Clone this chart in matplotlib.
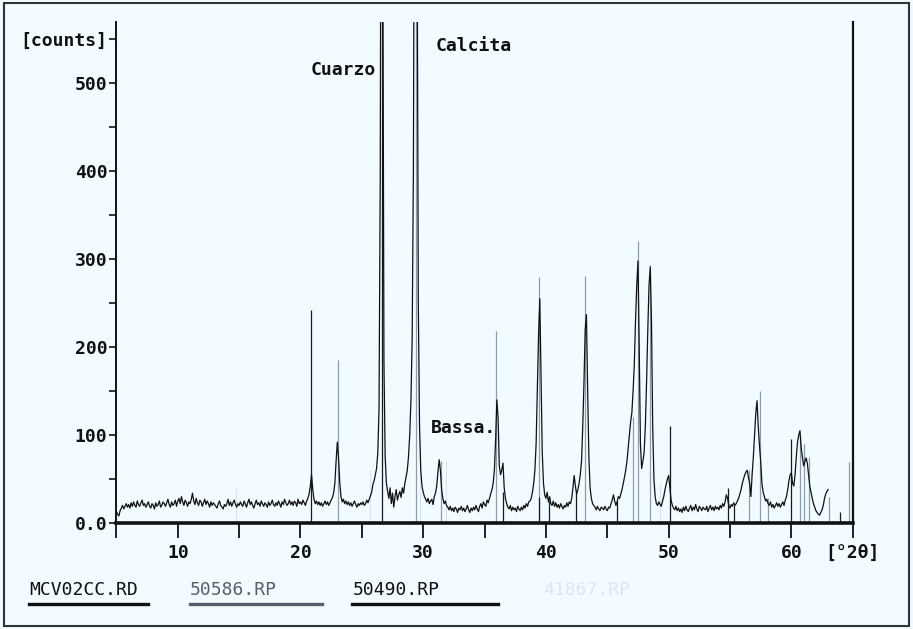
import matplotlib.pyplot as plt
import numpy as np

# scan measured (MCV02CC.RD), step 0.1 deg starting at 5.0 deg 2theta
scan_start = 5.0
scan_step = 0.1
counts = [
    13, 10, 8, 14, 17, 20, 16, 19, 22, 18,        # 5
    21, 17, 23, 19, 24, 20, 18, 25, 21, 19,       # 6
    23, 26, 20, 22, 18, 21, 24, 19, 17, 22,       # 7
    20, 16, 23, 19, 21, 25, 18, 20, 24, 22,       # 8
    19, 23, 27, 21, 18, 24, 20, 22, 26, 19,       # 9
    25, 28, 22, 30, 24, 20, 26, 23, 19, 24,       # 10
    22, 27, 34, 25, 21, 28, 23, 20, 26, 24,       # 11
    19, 23, 27, 21, 25, 22, 18, 24, 20, 23,       # 12
    21, 19, 17, 22, 25, 20, 18, 16, 21, 19,       # 13
    22, 27, 20, 24, 19, 23, 26, 21, 18, 22,       # 14
    20, 24, 21, 19, 25, 22, 18, 23, 27, 21,       # 15
    24, 20, 17, 22, 26, 21, 23, 19, 25, 22,       # 16
    19, 23, 21, 18, 24, 20, 22, 26, 21, 19,       # 17
    23, 20, 25, 22, 18, 24, 21, 27, 23, 20,       # 18
    22, 26, 21, 24, 20, 25, 23, 19, 27, 22,       # 19
    24, 21, 26, 23, 20, 25, 28, 33, 42, 55,       # 20
    38, 27, 22, 25, 21, 24, 20, 23, 19, 22,       # 21
    25, 21, 24, 20, 23, 26, 29, 34, 45, 70,       # 22
    92, 74, 46, 30, 24, 27, 22, 25, 21, 24,       # 23
    20, 23, 19, 22, 25, 21, 18, 22, 20, 23,       # 24
    21, 24, 20, 22, 26, 23, 27, 31, 35, 44,       # 25
    48, 55, 62, 80, 130, 400, 1100, 700, 183, 75, # 26
    45, 36, 28, 40, 22, 34, 18, 30, 38, 26,       # 27
    32, 36, 29, 40, 34, 45, 52, 60, 75, 100,      # 28
    140, 210, 400, 900, 1400, 700, 250, 110, 60, 42,  # 29
    35, 30, 27, 24, 28, 22, 25, 27, 21, 30,       # 30
    34, 42, 58, 72, 60, 38, 28, 22, 25, 20,       # 31
    18, 15, 19, 14, 17, 13, 18, 16, 12, 17,       # 32
    15, 19, 14, 17, 13, 16, 20, 15, 12, 17,       # 33
    14, 18, 15, 20, 16, 13, 19, 22, 17, 24,       # 34
    21, 19, 26, 23, 28, 33, 38, 45, 60, 95,       # 35
    140, 120, 65, 55, 60, 68, 40, 28, 22, 18,     # 36
    16, 20, 14, 18, 15, 17, 13, 19, 16, 14,       # 37
    18, 15, 20, 17, 22, 19, 24, 25, 28, 35,       # 38
    45, 60, 90, 150, 215, 255, 170, 80, 45, 32,   # 39
    28, 35, 24, 30, 22, 20, 25, 19, 23, 18,       # 40
    21, 17, 22, 19, 16, 20, 18, 23, 19, 24,       # 41
    22, 28, 40, 54, 42, 33, 38, 45, 55, 70,       # 42
    110, 160, 220, 237, 150, 75, 40, 28, 22, 20,  # 43
    18, 15, 19, 16, 14, 18, 17, 15, 19, 16,       # 44
    14, 18, 17, 22, 26, 32, 25, 20, 24, 30,       # 45
    28, 33, 38, 45, 52, 60, 70, 85, 100, 115,     # 46
    125, 150, 180, 230, 270, 298, 200, 90, 62, 70,  # 47
    80, 110, 160, 220, 270, 291, 230, 110, 50, 30,  # 48
    22, 20, 24, 21, 19, 25, 30, 38, 44, 50,       # 49
    54, 40, 26, 20, 17, 15, 19, 14, 17, 13,       # 50
    16, 12, 18, 14, 19, 15, 13, 17, 20, 14,       # 51
    18, 15, 21, 16, 13, 19, 17, 14, 18, 16,       # 52
    15, 19, 13, 17, 20, 15, 18, 14, 19, 16,       # 53
    18, 15, 20, 17, 22, 19, 24, 32, 28, 20,       # 54
    17, 21, 19, 23, 20, 22, 25, 28, 33, 38,       # 55
    45, 50, 55, 58, 60, 52, 45, 30, 55, 75,       # 56
    100, 125, 139, 110, 88, 70, 45, 35, 30, 25,   # 57
    27, 22, 20, 24, 18, 21, 17, 20, 23, 19,       # 58
    22, 18, 21, 24, 20, 26, 30, 38, 48, 55,       # 59
    57, 45, 42, 55, 75, 92, 100, 105, 85, 75,     # 60
    65, 70, 74, 68, 55, 42, 35, 28, 22, 18,       # 61
    14, 12, 10, 9, 12, 15, 20, 28, 33, 36,        # 62
    38,
]

# reference patterns (stick lines)
ref_50586_pos = [23.06, 29.41, 31.42, 35.97, 39.41, 43.16, 47.12, 47.51, 48.51,
                 56.57, 57.41, 58.10, 60.68, 61.01, 61.40, 63.10, 64.68]
ref_50586_int = [185, 900, 70, 218, 280, 281, 120, 321, 293,
                 60, 150, 28, 100, 90, 75, 30, 69]
ref_50490_pos = [20.86, 26.64, 36.54, 39.47, 40.29, 42.45, 45.79, 50.14,
                 54.87, 55.33, 59.96, 64.00]
ref_50490_int = [242, 900, 35, 30, 25, 35, 25, 110, 40, 20, 95, 12]
ref_faint_pos = [14.74, 25.70, 29.74, 31.88, 49.30]
ref_faint_int = [40, 60, 90, 70, 45]

x_ticks = [5, 10, 15, 20, 25, 30, 35, 40, 45, 50, 55, 60, 65]
x_ticklabels = ['', '10', '', '20', '', '30', '', '40', '', '50', '', '60', '[°2θ]']
y_ticks = [0, 100, 200, 300, 400, 500, 550]
y_ticklabels = ['0.0', '100', '200', '300', '400', '500', '[counts]']
y_minor = [50, 150, 250, 350, 450]

labels = ['Cuarzo', 'Calcita', 'Bassa.']
label_pos = [(20.8, 515), (31.0, 542), (30.6, 108)]

legend_names = ['MCV02CC.RD', '50586.RP', '50490.RP', '41867.RP']
legend_colors = ['#111111', '#55606a', '#111111', '#dde6f0']

bg = '#f2fbff'
font = 'DejaVu Sans Mono'

two_theta = scan_start + scan_step * np.arange(len(counts))

fig = plt.figure(figsize=(9.13, 6.29), dpi=100, facecolor=bg)
ax = fig.add_axes([0.1275, 0.1685, 0.8065, 0.797])
ax.set_facecolor(bg)

ax.vlines(ref_faint_pos, 0, ref_faint_int, colors='#d6e2ee', linewidth=0.8, zorder=1)
ax.vlines(ref_50586_pos, 0, ref_50586_int, colors='#8c9cab', linewidth=0.9, zorder=2)
ax.vlines(ref_50490_pos, 0, ref_50490_int, colors='#1a1a1a', linewidth=0.9, zorder=2)
ax.plot(two_theta, counts, color='#111111', linewidth=0.9, zorder=3)

ax.set_xlim(5, 65)
ax.set_ylim(0, 570)

ax.spines['top'].set_visible(False)
ax.spines['left'].set_linewidth(1.4)
ax.spines['right'].set_linewidth(1.6)
ax.spines['bottom'].set_linewidth(2.6)
for s in ax.spines.values():
    s.set_color('#111111')

ax.set_xticks(x_ticks)
ax.set_xticklabels(x_ticklabels)
ax.set_yticks(y_ticks)
ax.set_yticklabels(y_ticklabels)
ax.set_yticks(y_minor, minor=True)
ax.tick_params(axis='x', direction='out', length=11, width=1.3, pad=4,
               colors='#111111', labelsize=13)
ax.tick_params(axis='y', which='both', direction='out', length=5, width=1.2, pad=1.5,
               colors='#111111', labelsize=13)
for t in ax.get_xticklabels() + ax.get_yticklabels():
    t.set_family(font)
    t.set_fontweight('bold')

for txt, (xx, yy) in zip(labels, label_pos):
    ax.text(xx, yy, txt, family=font, fontweight='bold', fontsize=13,
            color='#111111', ha='left', va='center')

# legend of files under the plot
leg_x = [0.032, 0.208, 0.386, 0.595]
leg_w = [0.130, 0.145, 0.160, 0.110]
for name, col, lx, lw in zip(legend_names, legend_colors, leg_x, leg_w):
    fig.text(lx, 0.062, name, family=font, fontsize=13, color=col, ha='left', va='center')
    if name != '41867.RP':
        fig.add_artist(plt.Line2D([lx, lx + lw], [0.039, 0.039], color=col, linewidth=2.4))

# outer frame of the scanned sheet
fig.add_artist(plt.Rectangle((0.004, 0.005), 0.992, 0.99, transform=fig.transFigure,
                             fill=False, edgecolor='#333333', linewidth=1.5))

fig.savefig('out.png', dpi=100, facecolor=bg)
